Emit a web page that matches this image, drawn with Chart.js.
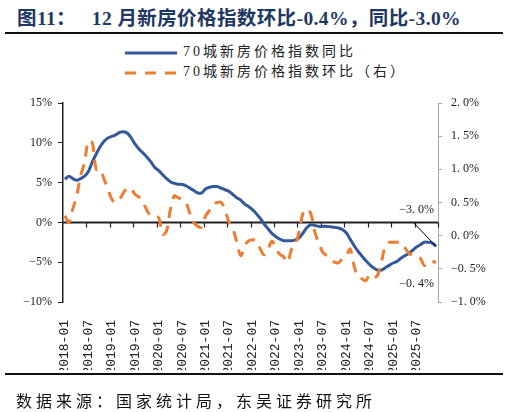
<!DOCTYPE html>
<html>
<head>
<meta charset="utf-8">
<script src="https://cdn.jsdelivr.net/npm/chart.js"></script>
<style>
  body { margin: 0; width: 509px; height: 412px; background: #fff; position: relative; overflow: hidden;
         font-family: "Liberation Serif", "Noto Sans CJK SC", serif; }
  #chart { position: absolute; left: 0; top: 0; }
  #title { position: absolute; left: 17px; top: 2px; font-size: 19.5px; letter-spacing: 0.4px; font-weight: bold; color: #1f3763; white-space: nowrap; }
  .rule { position: absolute; left: 5px; width: 498px; height: 2px; background: #111; }
  .legend { position: absolute; left: 125px; height: 18px; line-height: 18px; font-size: 14px; letter-spacing: 3px; color: #222; white-space: nowrap; }
  .legend svg { vertical-align: middle; margin-right: 6px; }
  #source { position: absolute; left: 16px; top: 388px; font-size: 16px; letter-spacing: 4px; color: #111; white-space: nowrap; }
</style>
</head>
<body>
<div id="title">图11：&nbsp;&nbsp; 12 月新房价格指数环比-0.4%，同比-3.0%</div>
<div class="rule" style="top:32px"></div>
<div class="legend" id="leg1" style="top:43px"></div>
<div class="legend" id="leg2" style="top:63px"></div>
<canvas id="chart" width="509" height="412"></canvas>
<div class="rule" style="top:373px"></div>
<div id="source">数据来源：国家统计局，东吴证券研究所</div>
<script>
const yoyName = "70城新房价格指数同比";
const momName = "70城新房价格指数环比（右）";

// 2018-01 ... 2025-12
const firstYear = 2018, lastYear = 2025;

// 同比, %
const yoy = [
  5.4, 5.8, 5.5, 5.3, 5.5, 5.8, 6.4, 7.6, 8.6, 9.5,
  10.2, 10.6, 10.8, 11.0, 11.3, 11.4, 11.2, 10.6, 9.8, 9.2,
  8.7, 8.2, 7.6, 6.9, 6.5, 6.0, 5.5, 5.1, 4.9, 4.8,
  4.75, 4.6, 4.3, 4.0, 3.7, 3.7, 4.2, 4.4, 4.5, 4.5,
  4.3, 4.1, 3.9, 3.5, 3.1, 2.8, 2.3, 2.0, 1.6, 1.1,
  0.5, -0.2, -0.8, -1.4, -1.8, -2.1, -2.3, -2.3, -2.3, -2.2,
  -1.9, -1.3, -0.6, -0.3, -0.4, -0.5, -0.5, -0.5, -0.55, -0.6,
  -0.7, -0.9, -1.3, -2.1, -2.9, -3.6, -4.2, -4.8, -5.3, -5.7,
  -6.0, -6.0, -5.7, -5.4, -5.1, -4.9, -4.5, -4.2, -3.9, -3.5,
  -3.1, -2.8, -2.5, -2.5, -2.6, -3.0
];

// 环比, %
const mom = [
  0.3, 0.2, 0.4, 0.6, 0.9, 1.1, 1.43, 1.4, 1.0, 1.0,
  0.85, 0.7, 0.55, 0.5, 0.55, 0.65, 0.72, 0.7, 0.62, 0.58,
  0.5, 0.38, 0.3, 0.29, 0.27, 0.02, 0.07, 0.4, 0.6, 0.57,
  0.55, 0.5, 0.33, 0.2, 0.14, 0.13, 0.3, 0.38, 0.47, 0.5,
  0.5, 0.38, 0.2, 0.1, -0.1, -0.3, -0.16, -0.08, -0.06, -0.08,
  -0.2, -0.29, -0.2, -0.08, -0.2, -0.28, -0.32, -0.4, -0.21, -0.14,
  0.08, 0.35, 0.4, 0.32, 0.05, -0.11, -0.25, -0.3, -0.35, -0.4,
  -0.41, -0.35, -0.31, -0.2, -0.45, -0.62, -0.65, -0.68, -0.59, -0.63,
  -0.6, -0.4, -0.16, -0.1, -0.1, -0.1, -0.1, -0.18, -0.26, -0.3,
  -0.32, -0.34, -0.45, -0.4, -0.39, -0.4
];

const leftTicks = { min: -10, max: 15, step: 5 };
const rightTicks = { min: -1, max: 2, step: 0.5 };
const labelEvery = 6;

const months = [];
for (let y = firstYear; y <= lastYear; y++) {
  for (let m = 1; m <= 12; m++) months.push(y + "-" + String(m).padStart(2, "0"));
}

const BLUE = "#33599a";
const ORANGE = "#ed7d31";
const tickFont = { family: "'Liberation Serif', serif", size: 12 };

// the source draws "2.0%" with a wide gap after the point
function pct1(v) {
  return v.toFixed(1).replace("-", "\u2212").replace(".", ". ") + "%";
}

function buildLegend() {
  document.getElementById("leg1").innerHTML =
    '<svg width="52" height="6"><line x1="0" y1="3" x2="52" y2="3" stroke="' + BLUE + '" stroke-width="3"/></svg>' + yoyName;
  document.getElementById("leg2").innerHTML =
    '<svg width="52" height="6"><line x1="0" y1="3" x2="52" y2="3" stroke="' + ORANGE + '" stroke-width="3" stroke-dasharray="11 9"/></svg>' + momName;
}

// x axis sits on 0% of the left scale, with a tick every half year
const zeroAxis = {
  id: "zeroAxis",
  beforeDatasetsDraw(chart) {
    const { ctx, scales } = chart;
    const x = scales.x, y0 = scales.y.getPixelForValue(0);
    const half = (x.getPixelForValue(1) - x.getPixelForValue(0)) / 2;
    ctx.save();
    ctx.strokeStyle = "#222";
    ctx.lineWidth = 2;
    ctx.beginPath();
    ctx.moveTo(chart.chartArea.left, y0);
    ctx.lineTo(chart.chartArea.right, y0);
    ctx.stroke();
    ctx.lineWidth = 1.2;
    ctx.beginPath();
    for (let i = labelEvery; i <= months.length; i += labelEvery) {
      const px = Math.round(x.getPixelForValue(i - 1) + half) + 0.5;
      ctx.moveTo(px, y0);
      ctx.lineTo(px, y0 + 5);
    }
    ctx.stroke();
    ctx.restore();
  },
  afterDatasetsDraw(chart) {
    const { ctx, scales } = chart;
    const n = months.length - 1;
    const bx = scales.x.getPixelForValue(n), by = scales.y.getPixelForValue(yoy[n]);
    const oy = scales.y1.getPixelForValue(mom[n]);
    ctx.save();
    ctx.strokeStyle = "#000";
    ctx.lineWidth = 1;
    ctx.beginPath();
    ctx.moveTo(bx - 22, by - 23);
    ctx.lineTo(bx, by);
    ctx.stroke();
    ctx.font = "12px 'Liberation Serif', serif";
    ctx.fillStyle = "#222";
    ctx.textAlign = "right";
    ctx.textBaseline = "middle";
    ctx.fillText(pct1(yoy[n]), bx - 2, by - 36);
    ctx.fillText(pct1(mom[n]), bx - 2, oy + 22);
    ctx.restore();
  }
};

function drawChart() {
  new Chart(document.getElementById("chart"), {
    type: "line",
    data: {
      labels: months,
      datasets: [
        {
          label: momName,
          data: mom,
          yAxisID: "y1",
          borderColor: ORANGE,
          borderWidth: 3,
          borderDash: [11, 8],
          pointRadius: 0,
          tension: 0.35,
        },
        {
          label: yoyName,
          data: yoy,
          yAxisID: "y",
          borderColor: BLUE,
          borderWidth: 3,
          pointRadius: 0,
          tension: 0.35,
        },
      ],
    },
    options: {
      responsive: false,
      animation: false,
      layout: { padding: { top: 103, bottom: 42, left: 0, right: 0 } },
      plugins: { legend: { display: false }, tooltip: { enabled: false } },
      scales: {
        x: {
          offset: true,
          grid: { display: false },
          border: { display: false },
          ticks: {
            autoSkip: false,
            minRotation: 90,
            maxRotation: 90,
            padding: 10,
            color: "#222",
            font: { family: "'Liberation Mono', monospace", size: 13 },
            callback: (v, i) => (i % labelEvery === 0 ? months[i] : ""),
          },
          afterFit: (s) => { s.height = 68; },
        },
        y: {
          position: "left",
          min: leftTicks.min,
          max: leftTicks.max,
          grid: { drawOnChartArea: false, drawTicks: true, tickLength: 5, color: "#222" },
          border: { color: "#222", width: 1.5 },
          ticks: {
            stepSize: leftTicks.step,
            padding: 6,
            color: "#222",
            font: tickFont,
            callback: (v) => String(v).replace("-", "\u2212") + "%",
          },
          afterFit: (s) => { s.width = 63; },
        },
        y1: {
          position: "right",
          min: rightTicks.min,
          max: rightTicks.max,
          grid: { drawOnChartArea: false, drawTicks: true, tickLength: 4, color: "#a6a6a6" },
          border: { color: "#a6a6a6", width: 1 },
          ticks: {
            stepSize: rightTicks.step,
            padding: 9,
            color: "#222",
            font: tickFont,
            callback: (v) => pct1(v),
          },
          afterFit: (s) => { s.width = 71; },
        },
      },
    },
    plugins: [zeroAxis],
  });
}

window.addEventListener("load", () => {
  buildLegend();
  drawChart();
});
</script>
</body>
</html>
